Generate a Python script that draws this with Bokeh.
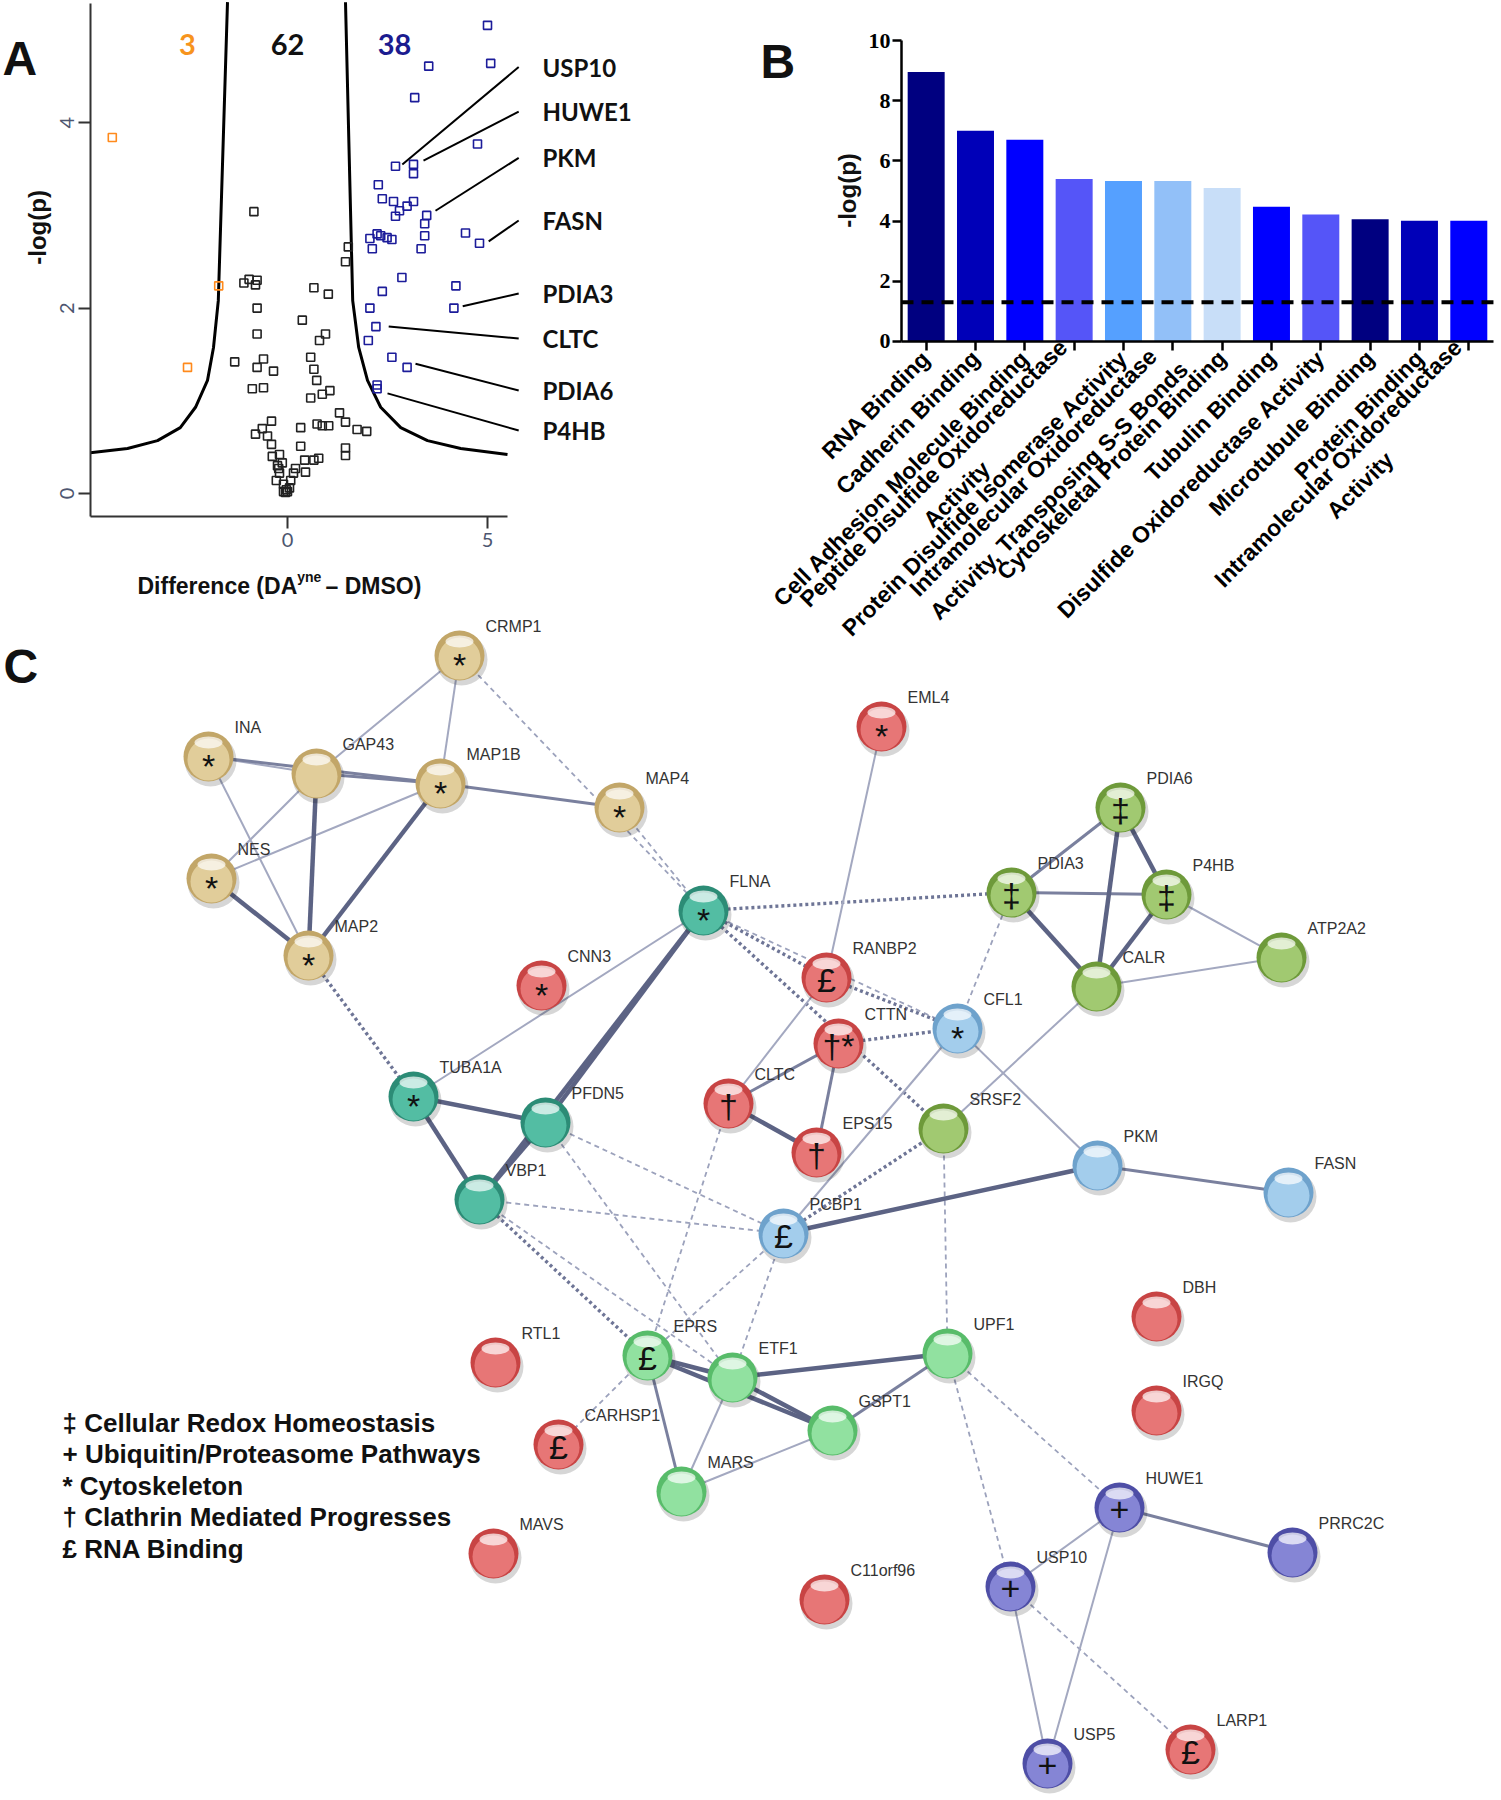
import math
from bokeh.plotting import figure
from bokeh.models import Range1d, FixedTicker, Label
from bokeh.layouts import column, row
from bokeh.core.properties import value
from bokeh.embed import file_html
from bokeh.resources import INLINE

# ---------------- Panel A data (volcano) ----------------
orange_x = [-4.38, -1.72, -2.50]
orange_y = [3.84, 2.24, 1.36]

blue_x = [5.00, 5.08, 3.53, 3.18, 4.75, 2.70, 3.15, 3.15, 2.27, 2.37, 2.65, 2.99, 3.15,
          2.80, 2.70, 3.48, 3.43, 3.43, 4.45, 4.80, 2.06, 2.24, 2.33, 2.49, 2.61, 2.12,
          3.34, 2.86, 2.37, 4.21, 4.16, 2.06, 2.21, 2.02, 2.61, 2.99, 2.24, 2.24]
blue_y = [5.05, 4.64, 4.61, 4.27, 3.77, 3.53, 3.55, 3.45, 3.33, 3.18, 3.15, 3.10, 3.15,
          3.05, 2.99, 3.00, 2.91, 2.78, 2.81, 2.70, 2.75, 2.80, 2.78, 2.76, 2.74, 2.64,
          2.64, 2.33, 2.18, 2.24, 2.00, 2.00, 1.80, 1.65, 1.47, 1.36, 1.17, 1.13]

black_x = [-0.84, 1.52, 1.45, -1.09, -0.96, -0.76, -0.80, 0.66, 1.02, -0.76, 0.37, -0.76,
           0.95, 0.80, -1.32, -0.60, -0.76, -0.35, 0.58, 0.66, -0.88, -0.60, 0.73, 1.06,
           0.87, 0.58, 1.30, 1.45, 1.74, 1.98, -0.40, -0.63, -0.80, -0.50, 0.33, 0.74,
           0.87, 1.03, -0.40, 0.33, 1.45, 1.45, -0.20, -0.38, 0.43, 0.66, 0.78, 0.20,
           0.45, 0.15, -0.22, -0.20, -0.28, 0.08, -0.10, -0.03, -0.10, 0.00, -0.05, 0.05,
           -0.13, -0.25]
black_y = [3.04, 2.66, 2.50, 2.27, 2.31, 2.30, 2.25, 2.22, 2.15, 2.00, 1.87, 1.72,
           1.72, 1.65, 1.42, 1.45, 1.36, 1.32, 1.47, 1.34, 1.13, 1.14, 1.22, 1.11,
           1.07, 1.03, 0.87, 0.77, 0.69, 0.67, 0.78, 0.70, 0.64, 0.62, 0.71, 0.75,
           0.73, 0.73, 0.53, 0.51, 0.49, 0.41, 0.42, 0.40, 0.36, 0.36, 0.38, 0.27,
           0.23, 0.22, 0.27, 0.22, 0.14, 0.14, 0.10, 0.04, 0.02, 0.02, 0.01, 0.06,
           0.33, 0.30]

thr_left_x = [-1.50, -1.73, -1.85, -2.00, -2.30, -2.68, -3.25, -4.00, -4.93]
thr_left_y = [5.30, 2.08, 1.575, 1.22, 0.93, 0.71, 0.57, 0.485, 0.44]
thr_right_x = [1.45, 1.63, 1.78, 2.00, 2.33, 2.83, 3.50, 4.33, 5.50]
thr_right_y = [5.30, 2.08, 1.575, 1.22, 0.93, 0.71, 0.57, 0.485, 0.42]

count_labels = ["3", "62", "38"]
count_x = [-2.50, 0.00, 2.675]

hit_genes = ["USP10", "HUWE1", "PKM", "FASN", "PDIA3", "CLTC", "PDIA6", "P4HB"]
hit_x = [2.87, 3.40, 3.70, 5.03, 4.38, 2.53, 3.20, 2.50]
hit_y = [3.55, 3.59, 3.05, 2.72, 2.02, 1.80, 1.40, 1.08]
hit_label_y = [4.60, 4.12, 3.62, 2.945, 2.157, 1.672, 1.111, 0.68]

x_ticks_a = [0, 5]
y_ticks_a = [0, 2, 4]

# ---------------- Panel B data (GO enrichment) ----------------
NB = "\u00a0"
go_terms = [
    "RNA Binding",
    "Cadherin Binding",
    "Cell Adhesion Molecule Binding",
    "Peptide Disulfide Oxidoreductase\nActivity" + NB * 22,
    "Protein Disulfide Isomerase Activity",
    "Intramolecular Oxidoreductase" + NB * 2 + "\nActivity, Transposing S-S Bonds",
    "Cytoskeletal Protein Binding",
    "Tubulin Binding",
    "Disulfide Oxidoreductase Activity",
    "Microtubule Binding",
    "Protein Binding",
    "Intramolecular Oxidoreductase\nActivity" + NB * 20,
]
go_values = [8.95, 7.00, 6.70, 5.40, 5.33, 5.33, 5.10, 4.48, 4.22, 4.06, 4.01, 4.01]
go_colors = ["#000080", "#0000b8", "#0000ff", "#5555f8", "#55a0ff", "#92c0f8",
             "#c8def8", "#0000ff", "#5555f8", "#000080", "#0000b8", "#0000ff"]
go_threshold = 1.3
y_ticks_b = [0, 2, 4, 6, 8, 10]

# ---------------- Panel C data (network) ----------------
node_names = ["CRMP1", "INA", "GAP43", "MAP1B", "MAP4", "NES", "MAP2", "EML4", "FLNA",
              "CNN3", "RANBP2", "CTTN", "CFL1", "PDIA6", "PDIA3", "P4HB", "ATP2A2", "CALR",
              "TUBA1A", "PFDN5", "CLTC", "EPS15", "SRSF2", "VBP1", "PKM", "FASN", "PCBP1",
              "DBH", "RTL1", "EPRS", "ETF1", "UPF1", "IRGQ", "CARHSP1", "GSPT1", "MARS",
              "HUWE1", "PRRC2C", "MAVS", "USP10", "C11orf96", "LARP1", "USP5"]
node_x = [459, 208, 316, 440, 619, 211, 308, 881, 703,
          541, 826, 838, 957, 1120, 1011, 1166, 1281, 1096,
          413, 545, 728, 816, 943, 479, 1097, 1288, 783,
          1156, 495, 647, 732, 947, 1156, 558, 832, 681,
          1119, 1292, 493, 1010, 824, 1190, 1047]
node_y = [655, 756, 773, 783, 807, 878, 955, 726, 910,
          985, 977, 1043, 1028, 807, 892, 894, 957, 986,
          1096, 1122, 1103, 1152, 1128, 1199, 1165, 1192, 1233,
          1316, 1362, 1355, 1377, 1353, 1410, 1444, 1430, 1491,
          1507, 1552, 1553, 1586, 1599, 1749, 1763]
node_group = ["tan", "tan", "tan", "tan", "tan", "tan", "tan", "red", "teal",
              "red", "red", "red", "blue", "olive", "olive", "olive", "olive", "olive",
              "teal", "teal", "red", "red", "olive", "teal", "blue", "blue", "blue",
              "red", "red", "lgreen", "lgreen", "lgreen", "red", "red", "lgreen", "lgreen",
              "purple", "purple", "red", "purple", "red", "red", "purple"]
node_symbol = ["*", "*", "", "*", "*", "*", "*", "*", "*",
               "*", "£", "†*", "*", "‡", "‡", "‡", "", "",
               "*", "", "†", "†", "", "", "", "", "£",
               "", "", "£", "", "", "", "£", "", "",
               "+", "", "", "+", "", "£", "+"]

edges_thick = [("NES", "MAP2"), ("MAP1B", "MAP2"), ("GAP43", "MAP2"), ("FLNA", "PFDN5"),
               ("FLNA", "VBP1"), ("TUBA1A", "PFDN5"), ("TUBA1A", "VBP1"), ("PFDN5", "VBP1"),
               ("CLTC", "EPS15"), ("PDIA6", "P4HB"), ("PDIA6", "CALR"), ("PDIA3", "CALR"),
               ("P4HB", "CALR"), ("EPRS", "ETF1"), ("EPRS", "GSPT1"), ("ETF1", "GSPT1"),
               ("ETF1", "UPF1"), ("PCBP1", "PKM")]
edges_mid = [("MAP1B", "MAP4"), ("CLTC", "CTTN"), ("CTTN", "EPS15"), ("PDIA6", "PDIA3"),
             ("PDIA3", "P4HB"), ("EPRS", "MARS"), ("UPF1", "GSPT1"), ("PKM", "FASN"),
             ("HUWE1", "PRRC2C"), ("INA", "MAP1B"), ("GAP43", "MAP1B")]
edges_thin = [("INA", "GAP43"), ("CRMP1", "GAP43"), ("CRMP1", "MAP1B"), ("INA", "MAP2"),
              ("GAP43", "NES"), ("NES", "MAP1B"), ("FLNA", "TUBA1A"), ("EML4", "RANBP2"),
              ("RANBP2", "CLTC"), ("CFL1", "PKM"), ("CFL1", "PCBP1"), ("CALR", "SRSF2"),
              ("P4HB", "ATP2A2"), ("CALR", "ATP2A2"), ("ETF1", "MARS"), ("MARS", "GSPT1"),
              ("HUWE1", "USP10"), ("HUWE1", "USP5"), ("USP10", "USP5")]
edges_dashed = [("CRMP1", "FLNA"), ("MAP4", "FLNA"), ("FLNA", "CFL1"), ("PFDN5", "PCBP1"),
                ("PFDN5", "ETF1"), ("VBP1", "PCBP1"), ("VBP1", "ETF1"), ("CLTC", "EPRS"),
                ("PCBP1", "EPRS"), ("PCBP1", "ETF1"), ("SRSF2", "UPF1"), ("EPRS", "CARHSP1"),
                ("UPF1", "HUWE1"), ("UPF1", "USP10"), ("USP10", "LARP1"), ("CFL1", "PDIA3")]
edges_dotted = [("FLNA", "PDIA3"), ("FLNA", "RANBP2"), ("FLNA", "SRSF2"), ("RANBP2", "CFL1"),
                ("CTTN", "CFL1"), ("PCBP1", "SRSF2"), ("VBP1", "EPRS"), ("MAP2", "TUBA1A")]

legend_lines = ["‡ Cellular Redox Homeostasis", "+ Ubiquitin/Proteasome Pathways",
                "* Cytoskeleton", "† Clathrin Mediated Progresses", "£ RNA Binding"]


def lab(p, x, y, text, size, bold=True, font="Liberation Sans", align="left",
        baseline="alphabetic", angle=0.0, color="#111111"):
    p.add_layout(Label(x=x, y=y, x_units="data", y_units="data", text=text,
                       text_font=font, text_font_style="bold" if bold else "normal",
                       text_font_size=size, text_align=align, text_baseline=baseline,
                       angle=angle, text_color=color))


def bare(p):
    p.outline_line_color = None
    p.grid.visible = False
    p.min_border_left = 0
    p.min_border_right = 0
    p.min_border_top = 0
    p.min_border_bottom = 0


TOP_H = 640

# ======================= Panel A =======================
A_W = 740
ax_lo, ax_hi = -4.93, 5.5
ay_lo, ay_hi = -0.248, 5.29
pA = figure(width=A_W, height=TOP_H, output_backend="svg", toolbar_location=None,
            x_range=Range1d(-7.175, 11.325), y_range=Range1d(-1.586, 5.318))
bare(pA)

for xs, ys in ((thr_left_x, thr_left_y), (thr_right_x, thr_right_y)):
    pA.line(xs, ys, line_color="black", line_width=3)

pA.scatter(black_x, black_y, marker="square", size=8, fill_color=None,
           line_color="#222222", line_width=1.6)
pA.scatter(blue_x, blue_y, marker="square", size=8, fill_color=None,
           line_color="#1c1c9a", line_width=1.6)
pA.scatter(orange_x, orange_y, marker="square", size=8, fill_color=None,
           line_color="#ff8a1c", line_width=1.6)

pA.segment(x0=hit_x, y0=hit_y, x1=[5.78] * len(hit_x), y1=hit_label_y,
           line_color="black", line_width=2)
pA.text(x=[6.375] * len(hit_genes), y=hit_label_y, text=hit_genes,
        text_font=value("Lato"), text_font_style="bold", text_font_size="24px",
        text_align="left", text_baseline="middle", text_color="#111111")

count_colors = ["#f7941d", "#111111", "#1b1b8f"]
pA.text(x=count_x, y=[4.844] * 3, text=count_labels, text_color=count_colors,
        text_font=value("Lato"), text_font_style="bold", text_font_size="29px",
        text_align="center", text_baseline="middle")

for ax in (pA.xaxis[0], pA.yaxis[0]):
    ax.axis_line_color = "#333333"
    ax.axis_line_width = 2
    ax.major_tick_line_color = "#333333"
    ax.major_tick_line_width = 2
    ax.major_tick_out = 12
    ax.major_tick_in = 0
    ax.minor_tick_line_color = None
    ax.major_label_text_font = "Lato"
    ax.major_label_text_font_size = "20px"
    ax.major_label_text_color = "#4d5670"
pA.xaxis[0].ticker = FixedTicker(ticks=x_ticks_a)
pA.yaxis[0].ticker = FixedTicker(ticks=y_ticks_a)
pA.xaxis[0].fixed_location = ay_lo
pA.yaxis[0].fixed_location = ax_lo
pA.xaxis[0].bounds = (ax_lo, ax_hi)
pA.yaxis[0].bounds = (ay_lo, ay_hi)
pA.xaxis[0].major_label_standoff = 5
pA.yaxis[0].major_label_standoff = 4
pA.yaxis[0].major_label_orientation = "vertical"

lab(pA, -7.125, 4.693, "A", "48px")
lab(pA, -6.26, 2.87, "-log(p)", "24px", align="center", baseline="middle", angle=math.pi / 2)
lab(pA, -3.75, -1.003, "Difference (DA", "23px")
lab(pA, 0.2425, -0.906, "yne", "14px")
lab(pA, 0.95, -1.003, " – DMSO)", "23px")

# ======================= Panel B =======================
B_W = 761
pB = figure(width=B_W, height=TOP_H, output_backend="svg", toolbar_location=None,
            x_range=Range1d(-3.7638, 11.663), y_range=Range1d(-9.934, 11.329))
bare(pB)
idx = list(range(len(go_terms)))
pB.vbar(x=idx, top=go_values, width=0.75, fill_color=go_colors, line_color=None)
pB.line(x=[idx[0] - 0.5, idx[-1] + 0.5], y=[go_threshold, go_threshold], line_color="black",
        line_width=4, line_dash="12 8")
for ax in (pB.xaxis[0], pB.yaxis[0]):
    ax.axis_line_color = "black"
    ax.axis_line_width = 2.5
    ax.major_tick_line_color = "black"
    ax.major_tick_line_width = 2.5
    ax.major_tick_out = 9
    ax.major_tick_in = 0
    ax.minor_tick_line_color = None
    ax.major_label_text_font_style = "bold"
    ax.major_label_text_color = "black"
pB.xaxis[0].ticker = FixedTicker(ticks=idx)
pB.xaxis[0].major_label_overrides = {i: t for i, t in zip(idx, go_terms)}
pB.xaxis[0].major_label_orientation = math.pi / 4
pB.xaxis[0].major_label_text_font = "Liberation Sans"
pB.xaxis[0].major_label_text_font_size = "23px"
pB.xaxis[0].major_label_standoff = 4
pB.xaxis[0].fixed_location = 0
pB.xaxis[0].bounds = (-0.5, 11.5)
pB.yaxis[0].ticker = FixedTicker(ticks=y_ticks_b)
pB.yaxis[0].major_label_text_font = "Liberation Sans Narrow"
pB.yaxis[0].major_label_text_font_size = "22px"
pB.yaxis[0].major_label_standoff = 2
pB.yaxis[0].fixed_location = -0.5
pB.yaxis[0].bounds = (0, 10)

lab(pB, -3.358, 9.302, "B", "48px")
lab(pB, -1.595, 5.017, "-log(p)", "24px", align="center", baseline="middle", angle=math.pi / 2)

# ======================= Panel C =======================
C_TOP = 612
C_W, C_H = A_W + B_W, 1800 - C_TOP
pC = figure(width=C_W, height=C_H, output_backend="svg", toolbar_location=None,
            x_range=Range1d(0, C_W), y_range=Range1d(C_TOP + C_H, C_TOP),
            x_axis_type=None, y_axis_type=None, margin=(C_TOP - TOP_H, 0, 0, 0))
bare(pC)
pC.background_fill_color = None
pC.border_fill_color = None

pos = {n: (x, y) for n, x, y in zip(node_names, node_x, node_y)}


def seg(edges):
    return dict(x0=[pos[a][0] for a, b in edges], y0=[pos[a][1] for a, b in edges],
                x1=[pos[b][0] for a, b in edges], y1=[pos[b][1] for a, b in edges])


pC.segment(**seg(edges_dashed), line_color="#9ca2bc", line_width=1.8, line_dash="5 4")
pC.segment(**seg(edges_dotted), line_color="#6e7596", line_width=3.4, line_dash="3 3")
pC.segment(**seg(edges_thin), line_color="#a3a8c0", line_width=2.0)
pC.segment(**seg(edges_mid), line_color="#7a809e", line_width=3.0)
pC.segment(**seg(edges_thick), line_color="#5c6384", line_width=4.5)

rim = {"tan": "#c2a668", "red": "#c84444", "teal": "#2c8c76", "olive": "#6e9a3a",
       "blue": "#6ea2cc", "lgreen": "#58bc6a", "purple": "#4e4ea6"}
body = {"tan": "#e4d2a0", "red": "#ea7c7c", "teal": "#58c2a8", "olive": "#a6ce78",
        "blue": "#a8d2ef", "lgreen": "#98e4a6", "purple": "#8c8cda"}
rim_c = [rim[g] for g in node_group]
body_c = [body[g] for g in node_group]

pC.circle([x + 2 for x in node_x], [y + 4 for y in node_y], radius=26,
          fill_color="#000000", fill_alpha=0.16, line_color=None)
pC.circle(node_x, node_y, radius=25, fill_color=rim_c, line_color=None)
pC.circle(node_x, [y + 3 for y in node_y], radius=21, fill_color=body_c, fill_alpha=0.9,
          line_color=None)
pC.ellipse(node_x, [y - 14 for y in node_y], width=28, height=12, fill_color="white",
           fill_alpha=0.7, line_color=None)

sym_x, sym_y, sym_t = [], [], []
for x, y, s in zip(node_x, node_y, node_symbol):
    if s:
        sym_x.append(x)
        sym_y.append(y + (9 if s == "*" else 2))
        sym_t.append(s)
pC.text(x=sym_x, y=sym_y, text=sym_t, text_font=value("Liberation Sans"),
        text_font_size="34px", text_align="center", text_baseline="middle",
        text_color="#111111")

pC.text(x=[x + 26 for x in node_x], y=[y - 29 for y in node_y], text=node_names,
        text_font=value("Liberation Sans"), text_font_size="16px", text_align="left",
        text_baseline="middle", text_color="#333333")

leg_y = [1422 + 31.6 * i for i in range(len(legend_lines))]
pC.text(x=[62] * len(legend_lines), y=leg_y, text=legend_lines,
        text_font=value("Liberation Sans"), text_font_style="bold", text_font_size="26px",
        text_align="left", text_baseline="middle", text_color="#111111")

lab(pC, 3, 666, "C", "48px")

layout = column(row(pA, pB), pC)
open("out.html", "w").write(file_html(layout, INLINE))
